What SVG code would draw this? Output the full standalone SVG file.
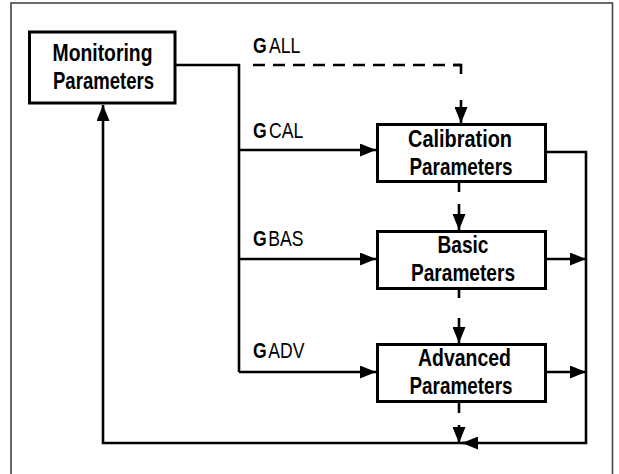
<svg xmlns="http://www.w3.org/2000/svg" width="619" height="474" viewBox="0 0 619 474">
<style>
.frame{fill:none;stroke:#444;stroke-width:1.6}
.box{fill:#fff;stroke:#000;stroke-width:3}
.t{font-family:"Liberation Sans",Arial,sans-serif;font-weight:bold;font-size:24.5px;fill:#000;text-anchor:middle}
.lbl{font-family:"Liberation Sans",Arial,sans-serif;font-size:22px;fill:#000}
.lbl .b{font-weight:bold}
.c{fill:none;stroke:#000;stroke-width:2.6}
.dash{stroke-dasharray:12 8}
</style>
<defs>
<marker id="ah" markerUnits="userSpaceOnUse" markerWidth="16" markerHeight="13" refX="16" refY="6.5" orient="auto">
<path d="M0,0 L16,6.5 L0,13 z" fill="#000"/>
</marker>
</defs>
<rect class="frame" x="11" y="3" width="601.5" height="520"/>
<g id="connectors">
<path class="c" d="M175,65 H239 V372"/>
<path class="c dash" d="M253,65 H461"/>
<path class="c" d="M453,65 H461 V74"/>
<path class="c" d="M461,100 V123" marker-end="url(#ah)"/>
<path class="c" d="M239,150 H376" marker-end="url(#ah)"/>
<path class="c" d="M239,259 H376" marker-end="url(#ah)"/>
<path class="c" d="M239,372 H376" marker-end="url(#ah)"/>
<path class="c" d="M459,183 V192"/>
<path class="c" d="M459,204 V230" marker-end="url(#ah)"/>
<path class="c" d="M459,290 V298"/>
<path class="c" d="M459,318 V343" marker-end="url(#ah)"/>
<path class="c" d="M459,403 V413"/>
<path class="c" d="M459,425 V443" marker-end="url(#ah)"/>
<path class="c" d="M546,152 H586 V443 H462" marker-end="url(#ah)"/>
<path class="c" d="M546,259 H586" marker-end="url(#ah)"/>
<path class="c" d="M546,372 H586" marker-end="url(#ah)"/>
<path class="c" d="M470,443 H103 V105" marker-end="url(#ah)"/>
</g>
<g id="monitoring">
<rect class="box" x="29.5" y="32" width="145.5" height="71"/>
<text class="t" x="102.5" y="61" textLength="100" lengthAdjust="spacingAndGlyphs">Monitoring</text>
<text class="t" x="103.5" y="88.5" textLength="101" lengthAdjust="spacingAndGlyphs">Parameters</text>
</g>
<g id="calibration">
<rect class="box" x="377.5" y="124.5" width="168" height="57"/>
<text class="t" x="460" y="146.5" textLength="104" lengthAdjust="spacingAndGlyphs">Calibration</text>
<text class="t" x="461" y="174.5" textLength="103" lengthAdjust="spacingAndGlyphs">Parameters</text>
</g>
<g id="basic">
<rect class="box" x="377.5" y="231.5" width="168" height="57"/>
<text class="t" x="463" y="252.5" textLength="51" lengthAdjust="spacingAndGlyphs">Basic</text>
<text class="t" x="463" y="280.5" textLength="104" lengthAdjust="spacingAndGlyphs">Parameters</text>
</g>
<g id="advanced">
<rect class="box" x="377.5" y="344.5" width="168" height="57"/>
<text class="t" x="464.5" y="365.5" textLength="93" lengthAdjust="spacingAndGlyphs">Advanced</text>
<text class="t" x="461" y="393.5" textLength="103" lengthAdjust="spacingAndGlyphs">Parameters</text>
</g>
<g id="labels">
<text class="lbl" transform="translate(253,53) scale(0.8,1)"><tspan class="b">G</tspan><tspan dx="3">ALL</tspan></text>
<text class="lbl" transform="translate(253,138) scale(0.8,1)"><tspan class="b">G</tspan><tspan dx="3">CAL</tspan></text>
<text class="lbl" transform="translate(253,246) scale(0.8,1)"><tspan class="b">G</tspan><tspan dx="2">BAS</tspan></text>
<text class="lbl" transform="translate(253,358) scale(0.8,1)"><tspan class="b">G</tspan><tspan dx="2">ADV</tspan></text>
</g>
</svg>
